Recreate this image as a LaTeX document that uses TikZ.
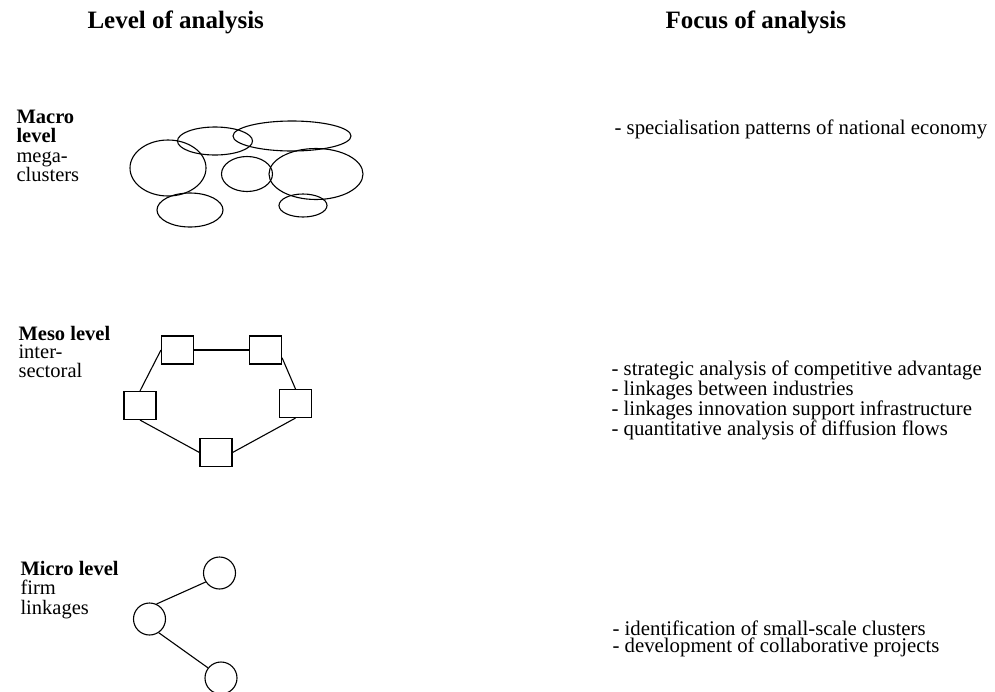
\documentclass[tikz,border=0pt]{standalone}
\usepackage{fontspec}
\setmainfont{Liberation Serif}
\begin{document}
\begin{tikzpicture}[x=1pt,y=-1pt,line width=1.1pt]
			\tikzset{box/.style={rectangle, draw=black, minimum width=32pt, minimum height=28pt, inner sep=0},
				firm/.style={circle, draw=black, minimum size=32pt, inner sep=0},
				head/.style={anchor=base west, inner sep=0, font=\fontsize{25}{25}\selectfont\bfseries},
				lab/.style={anchor=base west, inner sep=0, align=left, font=\fontsize{20.5}{19.5}\selectfont},
				foc/.style={anchor=base west, inner sep=0, align=left, font=\fontsize{20.8}{16.6}\selectfont}}
			\useasboundingbox (0,0) rectangle (995,691);
			\clip (0,0) rectangle (995,691);

			\node[head] at (87, 28) (hl) {Level of analysis};
			\node[head] at (665, 28) (hf) {Focus of analysis};

			% macro (base = last line)
			\node[lab] at (16, 181.5) (ma) {\textbf{Macro}\\\textbf{level}\\mega-\\clusters};
			\draw (168, 168) ellipse (38 and 28);
			\draw (215, 141) ellipse (37.5 and 14);
			\draw (292, 136) ellipse (59 and 15);
			\draw (247, 174) ellipse (25.5 and 17.5);
			\draw (316, 174) ellipse (47 and 25.5);
			\draw (190, 210) ellipse (33 and 17);
			\draw (303, 205.5) ellipse (24 and 11.5);
			\node[foc] at (614, 134) (fa) {- specialisation patterns of national economy};

			% meso
			\node[lab, font=\fontsize{20.5}{18.5}\selectfont] at (18, 377) (me) {\textbf{Meso level}\\inter-\\sectoral};
			\node[box] at (177.5, 350) (a) {};
			\node[box] at (265.5, 350) (b) {};
			\node[box] at (140, 405.5) (c) {};
			\node[box] at (295.5, 403.5) (d) {};
			\node[box] at (216, 452.5) (e) {};
			\draw (a) -- (b);
			\draw (a.west) -- (c.north);
			\draw (b.-25) -- (d.north);
			\draw (c.south) -- (e.west);
			\draw (d.south) -- (e.east);
			\node[foc] at (611, 435.8) (fb) {- strategic analysis of competitive advantage\\- linkages between industries\\- linkages innovation support infrastructure\\- quantitative analysis of diffusion flows};

			% micro
			\node[lab] at (20, 614) (mi) {\textbf{Micro level}\\firm\\linkages};
			\node[firm] at (219.5, 573) (f) {};
			\node[firm] at (149.5, 619) (g) {};
			\node[firm] at (221, 678) (h) {};
			\draw (g.65) -- (f.213);
			\draw (g.-56) -- (h.142);
			\node[foc, font=\fontsize{20.8}{17.5}\selectfont] at (612, 652.5) (fc) {- identification of small-scale clusters\\- development of collaborative projects};
		\end{tikzpicture}
\end{document}
